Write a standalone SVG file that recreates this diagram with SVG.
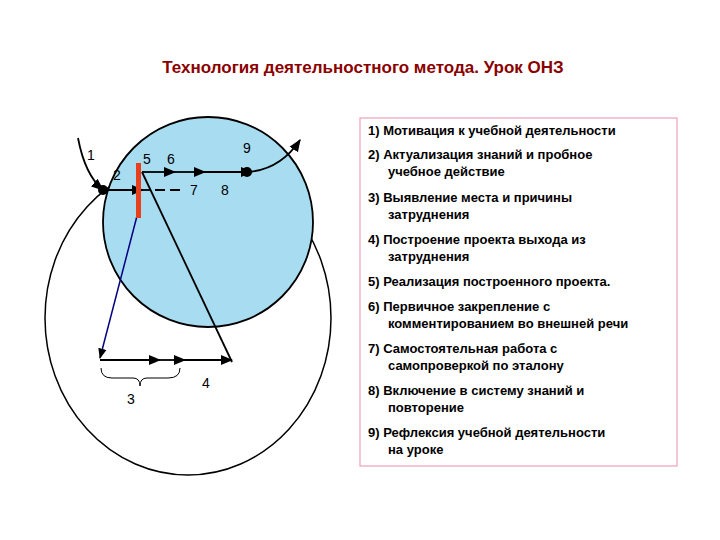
<svg xmlns="http://www.w3.org/2000/svg" width="720" height="540" viewBox="0 0 720 540">
<defs>
<marker id="a" viewBox="0 0 10 10" refX="9" refY="5" markerWidth="7" markerHeight="7" orient="auto"><path d="M0,1 L10,5 L0,9 z" fill="#000"/></marker>
<marker id="m" viewBox="0 0 10 10" refX="5" refY="5" markerWidth="7" markerHeight="7" orient="auto"><path d="M0,1 L10,5 L0,9 z" fill="#000"/></marker>
</defs>
<style>
text{font-family:"Liberation Sans",Arial,sans-serif;fill:#000;font-weight:bold}
.t{font-size:13px}
.n{font-size:14px;font-weight:normal}
.l{stroke:#000;stroke-width:1.8;fill:none}
</style>
<rect width="720" height="540" fill="#fff"/>
<text x="363" y="73" text-anchor="middle" style="font-size:17px;fill:#8b0000">Технология деятельностного метода. Урок ОНЗ</text>
<g id="big-circle"><ellipse cx="188" cy="318" rx="143" ry="157" fill="none" stroke="#000" stroke-width="1.5"/></g>
<g id="blue-circle"><circle cx="208" cy="222" r="105" fill="#a8dcf0" stroke="#000" stroke-width="1.8"/></g>
<g id="connectors">
<path class="l" d="M78,138 Q85,175 103,190" marker-end="url(#a)"/>
<path class="l" d="M247,172 Q280,170 300,140" marker-end="url(#a)"/>
<path class="l" d="M103,190 H138" marker-end="url(#m)"/>
<path class="l" d="M138,190 H150"/>
<path class="l" d="M155,190 H165 M170,190 H180" />
<path class="l" d="M142,172 H170" marker-end="url(#m)"/>
<path class="l" d="M170,172 H200" marker-end="url(#m)"/>
<path class="l" d="M200,172 H247" marker-end="url(#m)"/>
<path class="l" d="M142,172 L232,362"/>
<path d="M137,216 L100,358" stroke="#000080" stroke-width="1.5" fill="none" marker-end="url(#a)"/>
<path class="l" d="M100,360 H155" marker-end="url(#m)"/>
<path class="l" d="M155,360 H180" marker-end="url(#m)"/>
<path class="l" d="M180,360 H232" marker-end="url(#a)"/>
<path d="M101,368 Q101,378 112,378 H133 Q140,378 140,386 Q140,378 147,378 H168 Q180,378 180,368" stroke="#000" stroke-width="1" fill="none"/>
</g>
<g id="red-bar"><rect x="136" y="163" width="5" height="55" fill="#e8401c"/></g>
<g id="dots"><circle cx="103" cy="190" r="5" fill="#000"/><circle cx="247" cy="172" r="5" fill="#000"/></g>
<g id="labels">
<text x="87" y="160" class="n">1</text>
<text x="113" y="180" class="n">2</text>
<text x="143" y="164" class="n">5</text>
<text x="167" y="164" class="n">6</text>
<text x="190" y="195" class="n">7</text>
<text x="221" y="195" class="n">8</text>
<text x="243" y="153" class="n">9</text>
<text x="127" y="404" class="n">3</text>
<text x="202" y="388" class="n">4</text>
</g>
<g id="list">
<rect x="360" y="118" width="317" height="348" fill="#fff" stroke="#f0a0b8" stroke-width="1.2"/>
<text class="t" x="368" y="135">1)  Мотивация к учебной деятельности</text>
<text class="t" x="368" y="159">2)  Актуализация знаний и пробное</text>
<text class="t" x="388" y="176">учебное действие</text>
<text class="t" x="368" y="202">3)  Выявление места и причины</text>
<text class="t" x="388" y="219">затруднения</text>
<text class="t" x="368" y="244">4)  Построение проекта выхода из</text>
<text class="t" x="388" y="261">затруднения</text>
<text class="t" x="368" y="286">5)  Реализация построенного проекта.</text>
<text class="t" x="368" y="311">6)  Первичное закрепление с</text>
<text class="t" x="388" y="328">комментированием во внешней речи</text>
<text class="t" x="368" y="353">7)  Самостоятельная работа с</text>
<text class="t" x="388" y="370">самопроверкой по эталону</text>
<text class="t" x="368" y="395">8)  Включение в систему знаний и</text>
<text class="t" x="388" y="412">повторение</text>
<text class="t" x="368" y="437">9)  Рефлексия учебной деятельности</text>
<text class="t" x="388" y="454">на уроке</text>
</g>
</svg>
